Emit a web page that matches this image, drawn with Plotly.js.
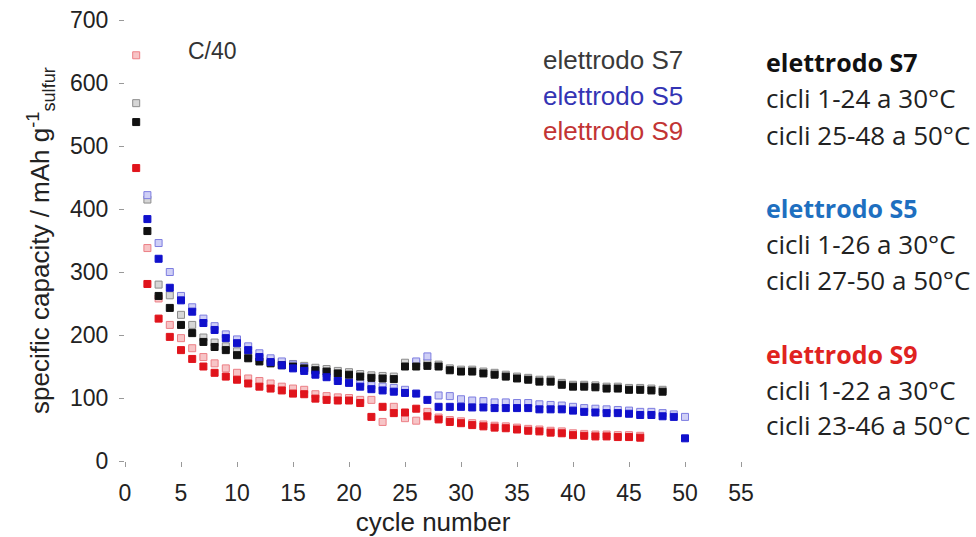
<!DOCTYPE html>
<html>
<head>
<meta charset="utf-8">
<script src="https://cdn.plot.ly/plotly-3.0.1.min.js"></script>
<style>
  html, body { margin: 0; padding: 0; background: #fff; }
  #chart { width: 976px; height: 537px; }
</style>
</head>
<body>
<div id="chart"></div>
<script>
// Cycle numbers for each electrode
const cyclesS7 = [1,2,3,4,5,6,7,8,9,10,11,12,13,14,15,16,17,18,19,20,21,22,23,24,25,26,27,28,29,30,31,32,33,34,35,36,37,38,39,40,41,42,43,44,45,46,47,48];
const cyclesS5 = [2,3,4,5,6,7,8,9,10,11,12,13,14,15,16,17,18,19,20,21,22,23,24,25,26,27,28,29,30,31,32,33,34,35,36,37,38,39,40,41,42,43,44,45,46,47,48,49,50];
const cyclesS9 = [1,2,3,4,5,6,7,8,9,10,11,12,13,14,15,16,17,18,19,20,21,22,23,24,25,26,27,28,29,30,31,32,33,34,35,36,37,38,39,40,41,42,43,44,45,46];

// Specific capacity (mAh g-1 sulfur): discharge (solid) and charge (light)
const dischargeS7 = [538,365,262,243,216,203,189,181,176,168,163,158,155,152,150,147,144,142,139,137,134,132,131,130,150,150,151,150,144,142,142,139,137,134,131,129,126,126,121,118,118,117,115,115,113,113,112,110];
const chargeS7    = [568,415,280,263,232,216,196,188,182,174,168,163,160,157,154,151,148,146,143,141,138,136,135,134,156,155,156,153,147,145,145,142,140,137,134,132,129,129,124,121,121,120,118,118,116,116,115,113];

const dischargeS5 = [384,321,275,255,237,219,208,195,187,176,165,157,152,147,143,137,133,127,124,118,114,112,110,108,107,97,86,86,86,85,85,84,84,84,84,82,82,82,80,78,77,76,76,75,73,73,71,70,36];
const chargeS5    = [422,346,300,262,244,226,214,201,193,182,171,163,158,153,149,143,139,133,130,124,120,118,116,113,158,166,104,103,98,96,95,93,93,92,92,90,89,88,86,84,83,82,81,80,78,78,76,74,70];

const dischargeS9 = [465,281,226,197,176,162,150,140,134,129,123,118,115,112,107,106,99,97,96,96,92,70,86,76,77,83,71,66,62,60,57,55,53,52,50,48,47,45,44,41,40,39,39,38,38,37];
const chargeS9    = [644,338,258,216,195,179,165,155,147,140,131,127,123,118,115,113,106,103,101,100,97,97,62,86,68,64,78,69,65,63,60,58,56,55,53,51,50,48,47,44,43,42,42,41,41,40];

// Text shown beside the plot
const seriesNames = ['elettrodo S7', 'elettrodo S5', 'elettrodo S9'];
const seriesNameColors = ['#3a3a3a', '#3434b4', '#c23434'];
const conditionLines = [
  ['elettrodo S7', 'cicli 1-24 a 30°C', 'cicli 25-48 a 50°C'],
  ['elettrodo S5', 'cicli 1-26 a 30°C', 'cicli 27-50 a 50°C'],
  ['elettrodo S9', 'cicli 1-22 a 30°C', 'cicli 23-46 a 50°C']
];
const conditionColors = ['#111111', '#1e6fc0', '#e0231f'];
const rateLabel = 'C/40';

function squares(x, y, fill, edge, size) {
  return {
    x: x, y: y, type: 'scatter', mode: 'markers', hoverinfo: 'x+y',
    marker: { symbol: 'square', size: size, color: fill, line: { color: edge, width: 1 } },
    showlegend: false
  };
}

const traces = [
  squares(cyclesS7, chargeS7, '#d6d6d6', '#8c8c8c', 7),
  squares(cyclesS5, chargeS5, '#cfcff6', '#7d7de0', 7),
  squares(cyclesS9, chargeS9, '#f7c4c6', '#ec7f86', 7),
  squares(cyclesS7, dischargeS7, '#111111', '#111111', 7),
  squares(cyclesS5, dischargeS5, '#1010cc', '#1010cc', 7),
  squares(cyclesS9, dischargeS9, '#e0141c', '#e0141c', 7)
];

const plotLeft = 125, plotRight = 741, plotTop = 20, plotBottom = 461;
const W = 976, H = 537;
const px = x => (x - plotLeft) / (plotRight - plotLeft);
const py = y => (plotBottom - y) / (plotBottom - plotTop);

const annotations = [];
annotations.push({
  text: rateLabel, xref: 'paper', yref: 'paper', x: px(212), y: py(51),
  xanchor: 'center', yanchor: 'middle', showarrow: false,
  font: { family: 'Liberation Sans, Arial, sans-serif', size: 23, color: '#333' }
});
const legendY = [60, 96, 131];
seriesNames.forEach((name, i) => {
  annotations.push({
    text: name, xref: 'paper', yref: 'paper', x: px(541), y: py(legendY[i]),
    xanchor: 'left', yanchor: 'middle', showarrow: false,
    font: { family: 'Liberation Sans, Arial, sans-serif', size: 26, color: seriesNameColors[i] }
  });
});
const blockY = [[62, 98, 135], [208, 244, 280], [354, 390, 425]];
conditionLines.forEach((lines, i) => {
  lines.forEach((line, j) => {
    annotations.push({
      text: j === 0 ? '<b>' + line + '</b>' : line,
      xref: 'paper', yref: 'paper', x: px(764), y: py(blockY[i][j]),
      xanchor: 'left', yanchor: 'middle', showarrow: false,
      font: { family: 'Open Sans, sans-serif', size: j === 0 ? 25 : 26, color: j === 0 ? conditionColors[i] : '#222' }
    });
  });
});

const axisFont = { family: 'Liberation Sans, Arial, sans-serif', size: 23, color: '#222' };

const layout = {
  width: W, height: H,
  margin: { l: plotLeft, r: W - plotRight, t: plotTop, b: H - plotBottom },
  paper_bgcolor: '#fff', plot_bgcolor: '#fff',
  showlegend: false,
  xaxis: {
    range: [0, 55], tick0: 0, dtick: 5,
    showgrid: false, zeroline: false, showline: false,
    ticks: 'outside', ticklen: 5, tickwidth: 1, tickcolor: '#999',
    ticklabelstandoff: 6,
    tickfont: axisFont,
    title: { text: 'cycle number', font: { family: 'Liberation Sans, Arial, sans-serif', size: 26, color: '#222' }, standoff: 12 }
  },
  yaxis: {
    range: [0, 700], tick0: 0, dtick: 100,
    showgrid: false, zeroline: false, showline: false,
    ticks: 'outside', ticklen: 5, tickwidth: 1, tickcolor: '#999',
    ticklabelstandoff: 6,
    tickfont: axisFont,
    title: { text: 'specific capacity / mAh g<sup>-1</sup><sub>sulfur</sub>', font: { family: 'Liberation Sans, Arial, sans-serif', size: 26, color: '#222' }, standoff: 12 }
  },
  annotations: annotations
};

Plotly.newPlot('chart', traces, layout, { displayModeBar: false, staticPlot: true });
</script>
</body>
</html>
